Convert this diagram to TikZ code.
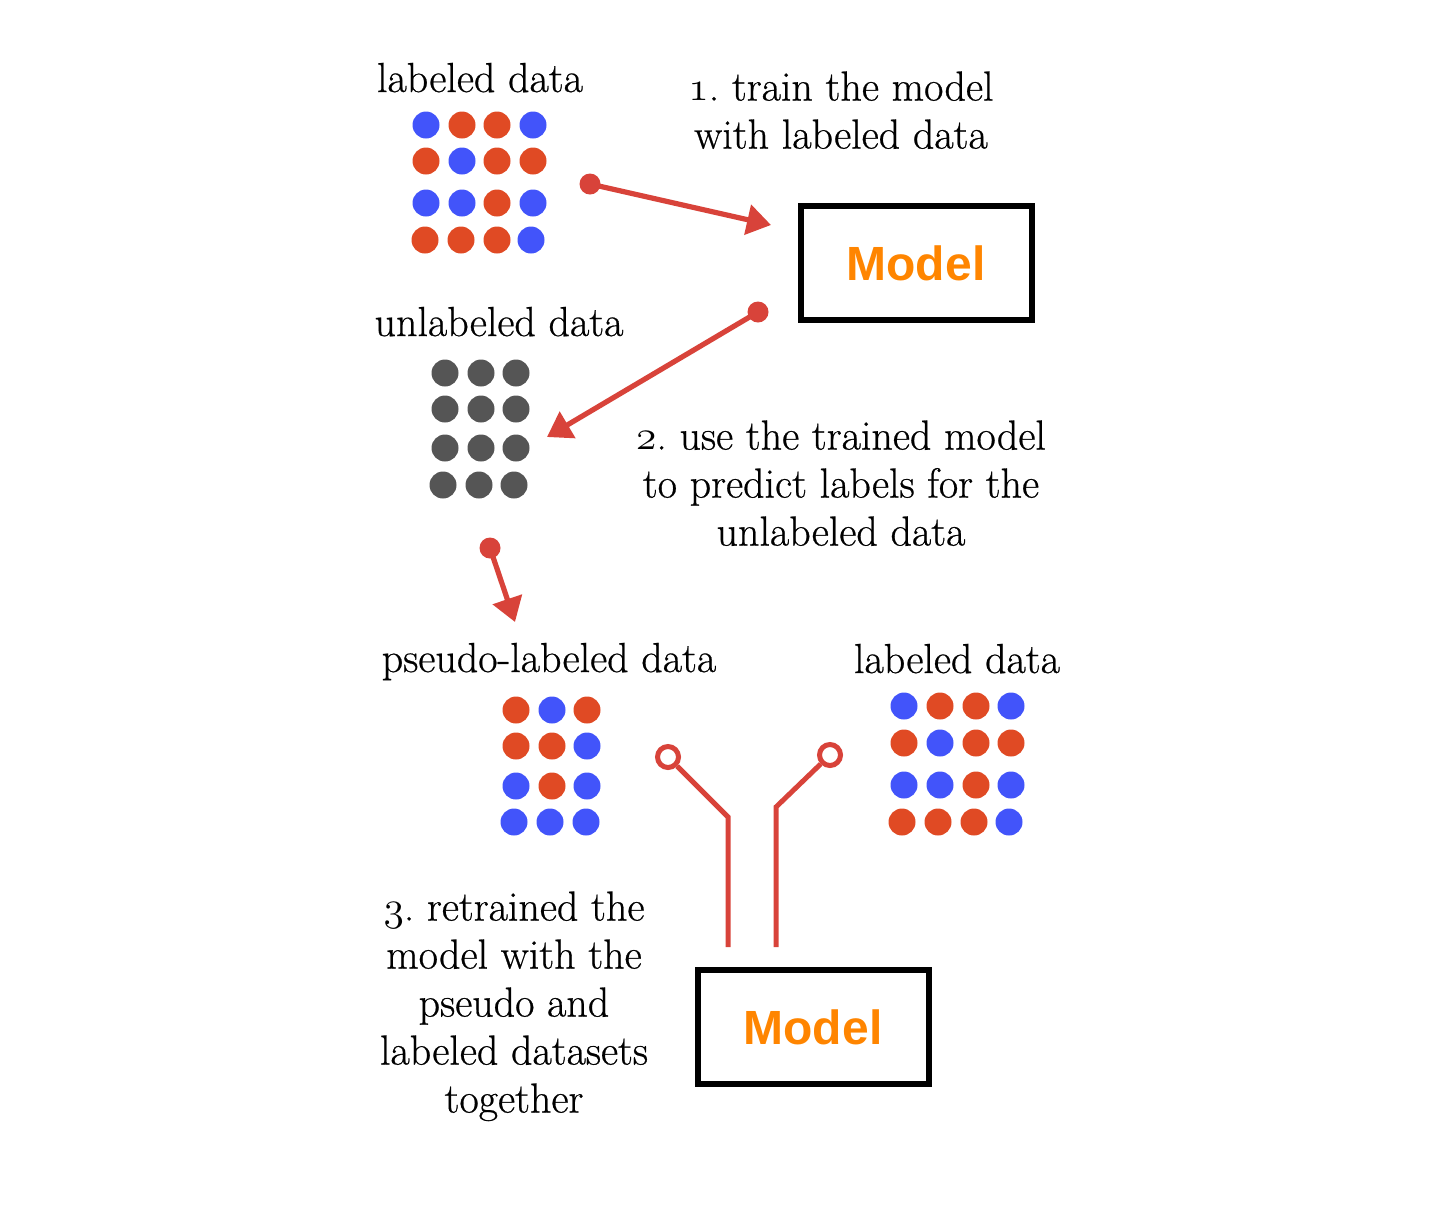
\documentclass[tikz,border=0pt]{standalone}
\usepackage{fontspec}
\usetikzlibrary{arrows.meta}
\newfontfamily\modelfont{Liberation Sans}
\newfontfamily\capfont[FakeBold=0.6]{Latin Modern Roman}
% old-style step numbers taken from the math italic font
\newcommand{\stepnum}[1]{\ensuremath{\mathnormal{#1}}}
\definecolor{dotblue}{RGB}{66,84,250}
\definecolor{dotorange}{RGB}{224,74,36}
\definecolor{dotgray}{RGB}{85,85,85}
\definecolor{flowred}{RGB}{216,67,58}
\definecolor{modelorange}{RGB}{255,133,0}
\colorlet{B}{dotblue}
\colorlet{R}{dotorange}
\colorlet{G}{dotgray}
\begin{document}
\begin{tikzpicture}[x=0.5pt,y=-0.5pt,
  dot/.style={circle,inner sep=0pt,minimum size=13.5pt},
  caption/.style={inner sep=0pt,font=\capfont\frenchspacing\fontsize{21}{24}\selectfont,align=center},
  modelbox/.style={draw=black,line width=3pt,minimum width=115.5pt,minimum height=57pt,
    inner sep=0pt,text=modelorange,font=\modelfont\bfseries\fontsize{24}{28}\selectfont},
  startdot/.style={circle,fill=flowred,inner sep=0pt,minimum size=10.5pt},
  opendot/.style={circle,draw=flowred,line width=2.5pt,fill=white,inner sep=0pt,minimum size=10.5pt},
  flow/.style={draw=flowred,line width=2.6pt,-{Triangle[length=12pt,width=15pt]}},
  wire/.style={draw=flowred,line width=2.5pt}]
\useasboundingbox (0,0) rectangle (1434,1206);

% labeled data (top)
\node[caption,anchor=base] (lab1) at (480,92) {labeled data};
\foreach \x/\y/\c [count=\i] in {426/125/B,462/125/R,497/125/R,533/125/B,
  426/161/R,462/161/B,497/161/R,533/161/R,
  426/203/B,462/203/B,497/203/R,533/203/B,
  425/240/R,461/240/R,497/240/R,531/240/B}
  \node[dot,fill=\c] (la\i) at (\x,\y) {};

% unlabeled data
\node[caption,anchor=base] (unl) at (499,336) {unlabeled data};
\foreach \x/\y [count=\i] in {445/373,481/373,516/373,
  445/409,481/409,516/409,
  445/448,481/448,516/448,
  443/485,479/485,514/485}
  \node[dot,fill=G] (un\i) at (\x,\y) {};

% pseudo-labeled data
\node[caption,anchor=base] (pse) at (549,672) {pseudo-labeled data};
\foreach \x/\y/\c [count=\i] in {516/710/R,552/710/B,587/710/R,
  516/746/R,552/746/R,587/746/B,
  516/786/B,552/786/R,587/786/B,
  514/822/B,550/822/B,586/822/B}
  \node[dot,fill=\c] (ps\i) at (\x,\y) {};

% labeled data (right)
\node[caption,anchor=base] (lab2) at (957,673) {labeled data};
\foreach \x/\y/\c [count=\i] in {904/706/B,940/706/R,976/706/R,1011/706/B,
  904/743/R,940/743/B,976/743/R,1011/743/R,
  904/785/B,940/785/B,976/785/R,1011/785/B,
  902/822/R,938/822/R,974/822/R,1009/822/B}
  \node[dot,fill=\c] (lb\i) at (\x,\y) {};

% models
\node[modelbox] (model1) at (916,263) {Model};
\node[modelbox] (model2) at (813,1027) {Model};

% step captions
\node[caption,anchor=north] (step1) at (841,71)
  {\stepnum{1}. train the model\\ with labeled data};
\node[caption,anchor=north] (step2) at (841,420)
  {\stepnum{2}. use the trained model\\ to predict labels for the\\ unlabeled data};
\node[caption,anchor=north] (step3) at (514,891)
  {\stepnum{3}. retrained the\\ model with the\\ pseudo and\\ labeled datasets\\ together};

% arrows
\node[startdot] (s1) at (590,184) {};
\coordinate (t1) at (771,225);
\draw[flow] (s1.center) -- (t1);

\node[startdot] (s2) at (758,312) {};
\coordinate (t2) at (547,437);
\draw[flow] (s2.center) -- (t2);

\node[startdot] (s3) at (490,548) {};
\coordinate (t3) at (515,622);
\draw[flow] (s3.center) -- (t3);

% fork feeding the retrained model
\node[opendot] (c1) at (668,757) {};
\coordinate (b1) at (728,817);
\coordinate (e1) at (728,947);
\draw[wire] (c1) -- (b1) -- (e1);

\node[opendot] (c2) at (830,755) {};
\coordinate (b2) at (776,807);
\coordinate (e2) at (776,947);
\draw[wire] (c2) -- (b2) -- (e2);
\end{tikzpicture}
\end{document}
